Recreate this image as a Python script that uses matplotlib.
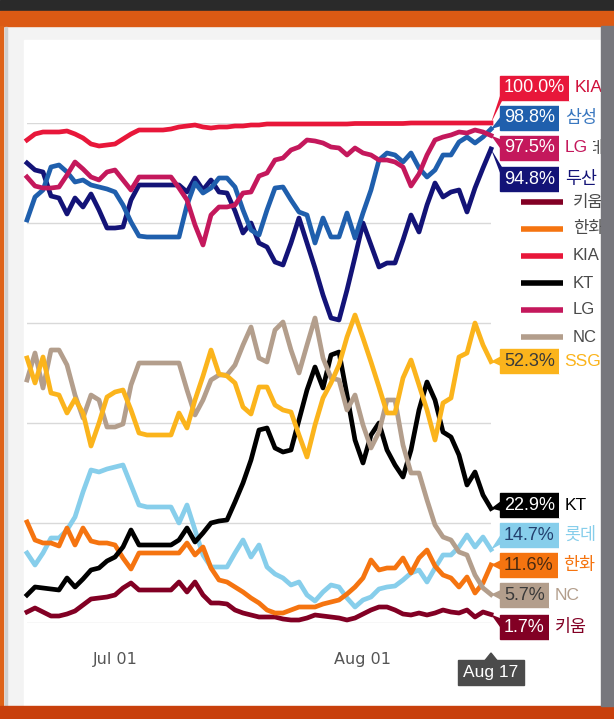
import matplotlib.pyplot as plt
import matplotlib.dates as mdates
from matplotlib.patches import Rectangle, Polygon
import pandas as pd

plt.rcParams['font.family'] = ['Liberation Sans', 'Noto Sans CJK KR', 'DejaVu Sans']

dates = pd.date_range('2024-06-20', '2024-08-17', freq='D')

teams = ['두산', '롯데', '삼성', '키움', '한화', 'KIA', 'KT', 'LG', 'NC', 'SSG']

# playoff probability (%) per day
doosan = [92.0, 90.6, 90.2, 85.4, 85.0, 81.8, 85.0, 83.2, 85.8, 82.6,
          79.0, 79.0, 79.2, 84.6, 87.6, 87.6, 87.6, 87.6, 87.6, 87.6,
          86.2, 89.0, 86.6, 88.6, 86.2, 86.0, 82.4, 78.0, 80.0, 76.0,
          75.2, 72.2, 71.6, 76.0, 81.0, 76.0, 71.0, 65.6, 61.0, 60.6,
          66.6, 73.2, 80.0, 75.6, 71.2, 72.0, 72.0, 76.6, 81.6, 78.2,
          83.6, 88.0, 85.2, 86.2, 86.6, 82.2, 87.0, 91.0, 94.8]
lotte = [14.0, 11.6, 14.0, 17.0, 17.0, 18.6, 21.2, 26.2, 30.6, 30.2,
         30.8, 31.2, 31.6, 27.6, 23.6, 23.2, 23.2, 23.2, 23.2, 20.0,
         23.6, 18.6, 13.6, 11.2, 11.2, 11.2, 14.0, 16.6, 13.2, 15.6,
         11.2, 9.8, 9.0, 7.6, 8.2, 5.6, 4.4, 6.2, 7.6, 7.2,
         5.0, 3.2, 4.6, 5.2, 6.8, 7.2, 7.4, 8.6, 10.0, 10.6,
         8.2, 11.0, 13.6, 13.6, 15.2, 17.6, 15.2, 17.2, 14.7]
samsung = [80.6, 85.2, 86.6, 91.2, 91.6, 90.2, 88.2, 88.6, 87.6, 87.2,
           86.8, 86.2, 83.6, 80.2, 77.4, 77.2, 77.2, 77.2, 77.2, 77.2,
           83.6, 88.0, 86.0, 87.0, 89.0, 89.0, 87.2, 82.6, 78.6, 77.6,
           82.6, 87.0, 87.2, 84.6, 82.2, 81.6, 76.0, 81.0, 77.2, 77.2,
           82.0, 77.0, 82.0, 86.6, 92.6, 94.0, 93.6, 92.2, 94.0, 91.0,
           89.2, 90.6, 93.6, 93.6, 96.2, 97.2, 96.0, 97.2, 98.8]
kiwoom = [2.2, 3.0, 2.2, 1.4, 1.4, 1.8, 2.4, 3.6, 4.8, 5.0,
          5.2, 5.6, 7.0, 8.0, 6.6, 6.6, 6.6, 6.6, 6.6, 8.2,
          6.2, 8.2, 5.6, 4.0, 4.0, 3.8, 2.6, 2.0, 1.6, 1.2,
          1.2, 1.2, 0.8, 0.6, 0.6, 1.0, 1.6, 1.4, 1.2, 1.0,
          0.6, 1.0, 1.8, 2.6, 3.2, 3.2, 2.6, 1.8, 1.6, 2.0,
          1.6, 2.0, 2.6, 2.2, 2.0, 2.6, 1.2, 2.2, 1.7]
hanwha = [20.2, 16.6, 16.0, 16.0, 15.4, 19.0, 15.6, 19.0, 16.4, 16.0,
          16.0, 15.6, 13.0, 10.8, 14.0, 14.0, 14.0, 14.0, 14.0, 14.0,
          16.0, 13.6, 15.2, 11.0, 8.6, 8.2, 7.2, 6.2, 5.0, 4.0,
          2.6, 2.0, 2.0, 2.6, 3.2, 3.2, 3.2, 3.8, 4.2, 4.6,
          5.8, 7.2, 9.0, 12.6, 10.6, 11.0, 11.0, 13.0, 10.0, 13.0,
          14.6, 11.4, 9.6, 9.0, 7.2, 9.2, 6.0, 8.0, 11.6]
kia = [96.6, 97.8, 98.2, 98.2, 98.2, 98.4, 97.8, 97.0, 95.8, 95.4,
       95.6, 95.8, 96.8, 97.8, 98.6, 98.6, 98.6, 98.6, 98.8, 99.2,
       99.4, 99.6, 99.2, 99.0, 99.2, 99.2, 99.4, 99.4, 99.6, 99.6,
       99.8, 99.8, 99.8, 99.8, 99.8, 99.8, 99.8, 99.8, 99.8, 99.8,
       99.8, 99.9, 99.9, 99.9, 99.9, 99.9, 99.9, 99.9, 100.0, 100.0,
       100.0, 100.0, 100.0, 100.0, 100.0, 100.0, 100.0, 100.0, 100.0]
kt = [5.6, 7.2, 7.0, 6.8, 6.6, 9.0, 7.2, 8.8, 10.6, 11.0,
      12.4, 13.2, 15.2, 18.6, 15.6, 15.6, 15.6, 15.6, 15.6, 16.6,
      19.0, 16.2, 18.0, 20.0, 20.4, 20.6, 24.2, 28.0, 32.6, 38.6,
      39.0, 35.0, 34.2, 34.6, 40.6, 46.6, 51.2, 47.0, 53.6, 54.2,
      45.6, 36.6, 32.0, 37.6, 40.0, 34.6, 31.6, 29.2, 34.6, 42.6,
      48.2, 44.6, 38.2, 37.2, 33.6, 27.6, 30.2, 25.6, 22.9]
lg = [89.2, 87.4, 87.0, 87.0, 87.2, 89.6, 92.2, 90.8, 89.2, 88.6,
      90.2, 90.6, 88.6, 86.6, 89.2, 89.2, 89.2, 89.2, 89.2, 87.0,
      84.6, 79.6, 75.6, 81.6, 83.2, 83.2, 83.6, 86.0, 86.2, 89.4,
      90.0, 92.6, 93.0, 94.6, 95.2, 96.6, 96.4, 96.0, 95.2, 95.0,
      93.6, 95.0, 94.0, 93.6, 92.6, 92.6, 92.2, 91.2, 87.4, 89.8,
      93.6, 96.6, 97.2, 97.6, 98.2, 98.0, 98.6, 98.2, 97.5]
nc = [48.6, 54.0, 47.0, 54.6, 54.6, 51.6, 45.6, 41.0, 45.6, 44.6,
      39.2, 39.2, 39.8, 47.6, 52.0, 52.0, 52.0, 52.0, 52.0, 52.0,
      46.6, 41.6, 44.6, 48.6, 49.6, 49.6, 51.6, 55.6, 59.2, 53.0,
      52.2, 58.6, 60.2, 54.6, 50.0, 55.6, 61.0, 53.0, 49.0, 48.6,
      42.6, 45.6, 39.6, 35.0, 38.2, 44.6, 44.6, 35.6, 30.0, 30.0,
      24.6, 19.6, 17.2, 16.6, 14.2, 13.6, 9.6, 7.0, 5.7]
ssg = [53.0, 48.0, 53.2, 46.0, 45.6, 42.0, 44.8, 42.0, 35.4, 40.0,
       45.2, 46.2, 46.6, 42.6, 38.0, 37.6, 37.6, 37.6, 37.6, 42.0,
       39.0, 44.6, 49.4, 54.6, 49.8, 49.4, 48.0, 43.2, 41.8, 47.2,
       47.2, 43.6, 42.6, 42.2, 37.6, 33.2, 39.6, 45.0, 48.0, 51.6,
       57.2, 61.6, 57.0, 52.2, 47.2, 42.0, 42.0, 49.0, 52.6, 47.6,
       42.6, 36.6, 44.0, 45.0, 53.2, 54.0, 60.0, 55.6, 52.3]

series = [doosan, lotte, samsung, kiwoom, hanwha, kia, kt, lg, nc, ssg]

colors = ['#131377', '#87ceeb', '#1f5fad', '#820024', '#f57410',
          '#e8173a', '#000000', '#c4185c', '#b39e8c', '#fbb41c']
box_text = ['white', '#23406e', 'white', 'white', '#4a2a10',
            'white', 'white', 'white', '#3a3a3a', '#3a3a3a']
name_colors = ['#131377', '#87ceeb', '#3a78c0', '#820024', '#f57410',
               '#d0103a', '#000000', '#c4185c', '#b39e8c', '#fbb41c']
# vertical centre (px from top) of each end-of-line callout
label_y = [179, 535, 118, 627, 565, 88, 505, 148, 595, 361]

W, H = 614, 719
fig = plt.figure(figsize=(W / 100, H / 100), dpi=100)

# screenshot frame
bg = fig.add_axes([0, 0, 1, 1], zorder=0)
bg.set_xlim(0, W); bg.set_ylim(H, 0); bg.axis('off')
bg.add_patch(Rectangle((0, 0), W, H, color='#f3f3f3'))
bg.add_patch(Rectangle((0, 0), W, 10, color='#2a2a2a'))
bg.add_patch(Rectangle((0, 11), W, 15, color='#dc5a14'))
bg.add_patch(Rectangle((0, 26), 3, 681, color='#de6218'))
bg.add_patch(Rectangle((5, 27), 2, 678, color='#cfcfcf'))
bg.add_patch(Rectangle((24, 40), 576, 666, color='white'))
bg.add_patch(Rectangle((0, 706), W, 13, color='#c8400c'))

# chart
ax = fig.add_axes([27 / W, (H - 623) / H, 464 / W, 500 / H], zorder=1)
ax.patch.set_alpha(0)
for team, vals, c in zip(teams, series, colors):
    ax.plot(dates, vals, color=c, lw=3.4, clip_on=False, zorder=3)
ax.set_xlim(dates[0], dates[-1])
ax.set_ylim(0, 100)
ax.set_yticks([0, 20, 40, 60, 80, 100])
ax.yaxis.grid(True, color='#d9d9d9', lw=1)
ax.set_axisbelow(True)
ax.tick_params(axis='y', left=False, labelleft=False)
ax.set_xticks(pd.to_datetime(['2024-07-01', '2024-08-01']))
ax.xaxis.set_major_formatter(mdates.DateFormatter('%b %d'))
ax.tick_params(axis='x', length=0, pad=21, labelsize=11.5, labelcolor='#555555')
for lab in ax.get_xticklabels():
    lab.set_family('DejaVu Sans')
for s in ax.spines.values():
    s.set_visible(False)

# overlay for legend, callouts and date flag
fg = fig.add_axes([0, 0, 1, 1], zorder=2)
fg.set_xlim(0, W); fg.set_ylim(H, 0); fg.axis('off')
fg.patch.set_alpha(0)

for i, (team, c) in enumerate(zip(teams, colors)):
    y = 121 + 27 * i
    fg.plot([521, 563], [y, y], color=c, lw=4, solid_capstyle='butt')
    fg.text(573, y, team, va='center', ha='left', fontsize=12, color='#4a4a4a')

xend = mdates.date2num(dates[-1])
for team, vals, c, tc, nc_, cy in zip(teams, series, colors, box_text, name_colors, label_y):
    tx, ty = ax.transData.transform((xend, vals[-1]))
    ty = H - ty
    fg.add_patch(Polygon([(505, cy - 7), (505, cy + 7), (tx, ty)], closed=True,
                         fc=c, ec='none', zorder=4))
    t = fg.text(504, cy, '%.1f%%' % vals[-1], ha='left', va='center', fontsize=13,
                color=tc, zorder=5,
                bbox=dict(boxstyle='square,pad=0.22', fc=c, ec=c))
    fg.annotate(team, xy=(1, 0.5), xycoords=t, xytext=(7, 0), textcoords='offset points',
                ha='left', va='center', fontsize=12.5, color=nc_, zorder=6,
                bbox=dict(boxstyle='square,pad=0.32', fc='white', ec='none'))

# right edge of the screenshot hides whatever runs past the chart panel
fg.add_patch(Rectangle((601, 26), 13, 680, color='#77777d', zorder=10))

# hovered date flag
fx = ax.transData.transform((xend, 0))[0]
fg.add_patch(Rectangle((fx - 33, 660), 66, 25, color='#4b4b4b'))
fg.add_patch(Polygon([(fx - 6, 660.5), (fx + 6, 660.5), (fx, 653)], closed=True, color='#4b4b4b'))
fg.text(fx, 672.5, dates[-1].strftime('%b %d').replace(' 0', ' '), ha='center', va='center',
        fontsize=12.5, color='white')

fig.savefig('out.png', dpi=100)
